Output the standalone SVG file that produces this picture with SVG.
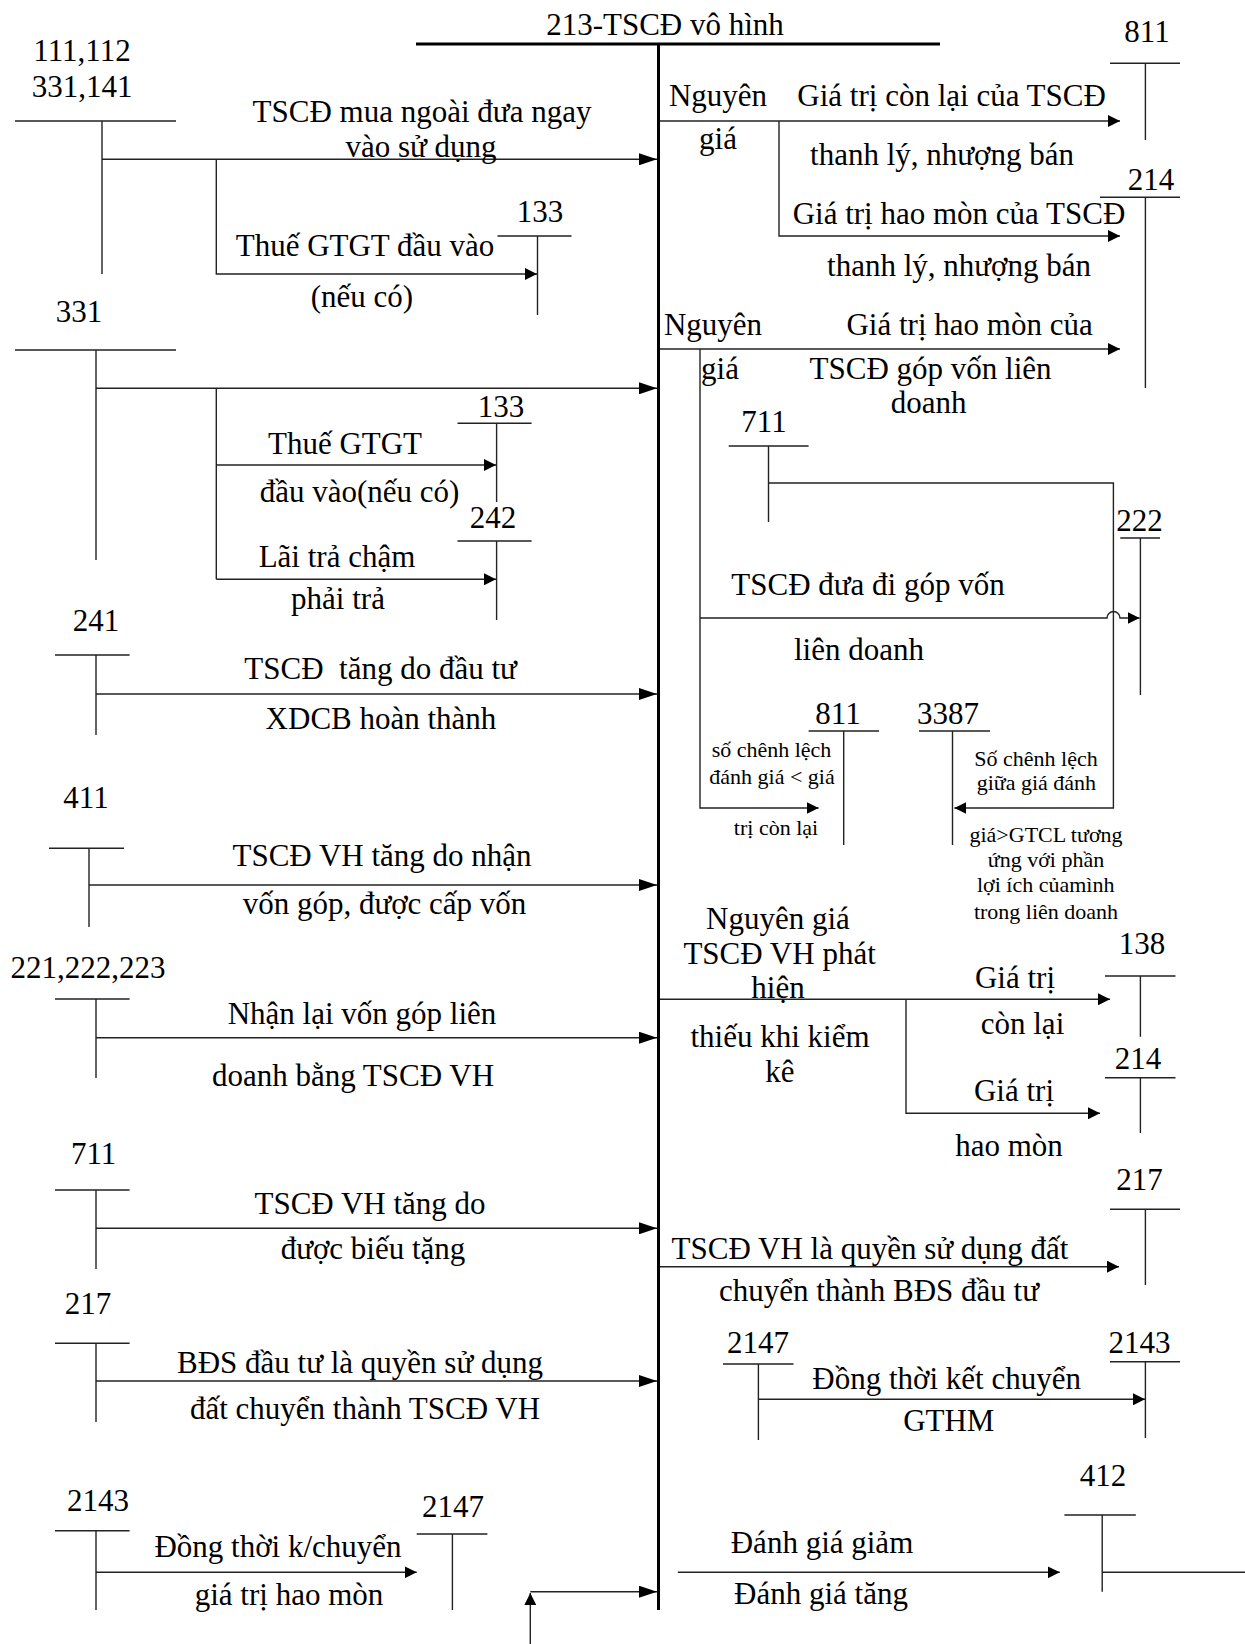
<svg xmlns="http://www.w3.org/2000/svg" width="1245" height="1644" viewBox="0 0 1245 1644">
<style>
  .t { font-family: "Liberation Serif", "Times New Roman", serif; font-size: 31px; fill: #000; text-anchor: middle; }
  .s { font-family: "Liberation Serif", "Times New Roman", serif; font-size: 22px; fill: #000; text-anchor: middle; }
  .ln { stroke: #222; stroke-width: 1.4; fill: none; }
  .main { stroke: #000; stroke-width: 3; fill: none; }
  .ar { stroke: #222; stroke-width: 1.4; fill: none; marker-end: url(#ah); }
  .arL { stroke: #222; stroke-width: 1.4; fill: none; marker-end: url(#ahL); }
</style>
<defs>
  <marker id="ah" markerWidth="12" markerHeight="12" refX="12" refY="6" orient="auto" markerUnits="userSpaceOnUse">
    <path d="M0,0 L12,6 L0,12 z" fill="#000"/>
  </marker>
  <marker id="ahL" markerWidth="18" markerHeight="12" refX="18" refY="6" orient="auto" markerUnits="userSpaceOnUse">
    <path d="M0,0 L18,6 L0,12 z" fill="#000"/>
  </marker>
</defs>
<rect width="1245" height="1644" fill="#fff"/>

<!-- central account 213 -->
<g id="acc213">
  <text class="t" x="665" y="35">213-TSCĐ vô hình</text>
  <line class="main" x1="416" y1="44" x2="940" y2="44"/>
  <line class="main" x1="658.5" y1="44" x2="658.5" y2="1610"/>
</g>

<!-- left-side accounts -->
<g id="acc111">
  <text class="t" x="82" y="61">111,112</text>
  <text class="t" x="82" y="97">331,141</text>
  <path class="ln" d="M15,121 H176 M102,121 V274"/>
</g>
<g id="acc133a">
  <text class="t" x="540" y="221.5">133</text>
  <path class="ln" d="M497.5,236 H571.5 M537.5,236 V315"/>
</g>
<g id="acc331">
  <text class="t" x="79" y="322">331</text>
  <path class="ln" d="M15,350 H176 M96,350 V560"/>
</g>
<g id="acc133b">
  <text class="t" x="501" y="417">133</text>
  <path class="ln" d="M457.5,423.3 H531.6 M496.6,423.3 V502"/>
</g>
<g id="acc242">
  <text class="t" x="493" y="528">242</text>
  <path class="ln" d="M457.5,541 H531.6 M496.6,541 V620"/>
</g>
<g id="acc241">
  <text class="t" x="96" y="631">241</text>
  <path class="ln" d="M55,655 H129.6 M96,655 V735"/>
</g>
<g id="acc411">
  <text class="t" x="86" y="808">411</text>
  <path class="ln" d="M49,848.3 H124 M89,848.3 V927"/>
</g>
<g id="acc221">
  <text class="t" x="88" y="977.5">221,222,223</text>
  <path class="ln" d="M55,999 H129.6 M96,999 V1078"/>
</g>
<g id="acc711L">
  <text class="t" x="93.6" y="1163.5">711</text>
  <path class="ln" d="M55,1190 H129.6 M96,1190 V1269"/>
</g>
<g id="acc217L">
  <text class="t" x="88" y="1314">217</text>
  <path class="ln" d="M55,1343.3 H129.6 M96,1343.3 V1422"/>
</g>
<g id="acc2143L">
  <text class="t" x="98" y="1510.5">2143</text>
  <path class="ln" d="M55,1530.7 H129.6 M96,1530.7 V1610"/>
</g>
<g id="acc2147L">
  <text class="t" x="453" y="1516.5">2147</text>
  <path class="ln" d="M416.7,1534 H487.4 M452.4,1534 V1610"/>
</g>

<!-- right-side accounts -->
<g id="acc811a">
  <text class="t" x="1147" y="42">811</text>
  <path class="ln" d="M1110,63.3 H1180 M1145.4,63.3 V140"/>
</g>
<g id="acc214a">
  <text class="t" x="1151" y="190">214</text>
  <path class="ln" d="M1100,197.3 H1180 M1145.4,197.3 V388"/>
</g>
<g id="acc711R">
  <text class="t" x="764" y="432">711</text>
  <path class="ln" d="M728.7,446 H808.6 M768.5,446 V522"/>
</g>
<g id="acc222">
  <text class="t" x="1139.6" y="531">222</text>
  <path class="ln" d="M1120.3,538 H1160 M1140.4,538 V695"/>
</g>
<g id="acc811b">
  <text class="t" x="838" y="724">811</text>
  <path class="ln" d="M808.6,731 H879 M843.7,731 V845"/>
</g>
<g id="acc3387">
  <text class="t" x="948" y="724">3387</text>
  <path class="ln" d="M919,731 H990 M952.5,731 V845"/>
</g>
<g id="acc138">
  <text class="t" x="1142" y="953.5">138</text>
  <path class="ln" d="M1105,976 H1175.5 M1140.4,976 V1036.7"/>
</g>
<g id="acc214b">
  <text class="t" x="1138" y="1069">214</text>
  <path class="ln" d="M1105,1077.7 H1175.5 M1140.4,1077.7 V1133"/>
</g>
<g id="acc217R">
  <text class="t" x="1139.6" y="1190">217</text>
  <path class="ln" d="M1110,1209.3 H1180 M1145.4,1209.3 V1285"/>
</g>
<g id="acc2147R">
  <text class="t" x="758" y="1353">2147</text>
  <path class="ln" d="M723,1364 H793.5 M758.4,1364 V1440"/>
</g>
<g id="acc2143R">
  <text class="t" x="1139.6" y="1353">2143</text>
  <path class="ln" d="M1110,1361.7 H1180 M1145.4,1361.7 V1438"/>
</g>
<g id="acc412">
  <text class="t" x="1103" y="1486">412</text>
  <path class="ln" d="M1064.4,1515 H1135.8 M1102.2,1515 V1591.7"/>
</g>

<!-- postings -->
<g id="connectors">
  <path class="arL" d="M102,159.3 H657"/>
  <path class="ar" d="M216.3,159.3 V274 H537"/>
  <path class="arL" d="M96,388.3 H657"/>
  <path class="ln" d="M216.3,388.3 V579.3"/>
  <path class="ar" d="M216.3,465 H496"/>
  <path class="ar" d="M216.3,579.3 H496"/>
  <path class="arL" d="M96,694 H657"/>
  <path class="arL" d="M89,885 H657"/>
  <path class="arL" d="M96,1037.7 H657"/>
  <path class="arL" d="M96,1228.3 H657"/>
  <path class="arL" d="M96,1381 H657"/>
  <path class="ar" d="M96,1572.3 H416.7"/>
  <path class="ar" d="M530.3,1644 V1593"/>
  <path class="arL" d="M530.3,1591.7 H657"/>

  <path class="ar" d="M660,121 H1120"/>
  <path class="ar" d="M779,121 V236 H1120"/>
  <path class="ar" d="M660,349 H1120"/>
  <path class="ar" d="M700,349 V808 H818.6"/>
  <path class="ar" d="M700,618 H1107 A6.5,6.5 0 0 1 1120,618 H1139.6"/>
  <path class="ar" d="M768.5,483 H1113.4 V808 H954.4"/>
  <path class="ar" d="M660,999.3 H1110"/>
  <path class="ar" d="M906,999.3 V1113.3 H1100"/>
  <path class="ar" d="M660,1266.7 H1119"/>
  <path class="ar" d="M758.4,1399.3 H1145"/>
  <path class="ar" d="M677.8,1572.3 H1059.8"/>
  <path class="ln" d="M1102.2,1572.3 H1245"/>
</g>

<!-- posting labels -->
<g id="labels">
  <text class="t" x="422" y="121.5">TSCĐ mua ngoài đưa ngay</text>
  <text class="t" x="421" y="157">vào sử dụng</text>
  <text class="t" x="365" y="255.5">Thuế GTGT đầu vào</text>
  <text class="t" x="362" y="307">(nếu có)</text>
  <text class="t" x="345" y="453.5">Thuế GTGT</text>
  <text class="t" x="359.5" y="501.5">đầu vào(nếu có)</text>
  <text class="t" x="337" y="567">Lãi trả chậm</text>
  <text class="t" x="338" y="609">phải trả</text>
  <text class="t" x="380.6" y="678.5" style="white-space:pre">TSCĐ  tăng do đầu tư</text>
  <text class="t" x="381" y="728.5">XDCB hoàn thành</text>
  <text class="t" x="382" y="865.5">TSCĐ VH tăng do nhận</text>
  <text class="t" x="384.5" y="914">vốn góp, được cấp vốn</text>
  <text class="t" x="362" y="1024">Nhận lại vốn góp liên</text>
  <text class="t" x="353" y="1086">doanh bằng TSCĐ VH</text>
  <text class="t" x="370" y="1213.5">TSCĐ VH tăng do</text>
  <text class="t" x="373" y="1258.5">được biếu tặng</text>
  <text class="t" x="360" y="1373">BĐS đầu tư là quyền sử dụng</text>
  <text class="t" x="365" y="1419">đất chuyển thành TSCĐ VH</text>
  <text class="t" x="278" y="1556.5">Đồng thời k/chuyển</text>
  <text class="t" x="289" y="1605">giá trị hao mòn</text>

  <text class="t" x="718" y="106">Nguyên</text>
  <text class="t" x="718" y="149">giá</text>
  <text class="t" x="951.6" y="106">Giá trị còn lại của TSCĐ</text>
  <text class="t" x="942" y="164.5">thanh lý, nhượng bán</text>
  <text class="t" x="959" y="224">Giá trị hao mòn của TSCĐ</text>
  <text class="t" x="959" y="275.5">thanh lý, nhượng bán</text>
  <text class="t" x="713" y="334.5">Nguyên</text>
  <text class="t" x="720" y="379">giá</text>
  <text class="t" x="969.6" y="334.5">Giá trị hao mòn của</text>
  <text class="t" x="930.6" y="378.5">TSCĐ góp vốn liên</text>
  <text class="t" x="928.6" y="413">doanh</text>
  <text class="t" x="868" y="595">TSCĐ đưa đi góp vốn</text>
  <text class="t" x="859" y="660">liên doanh</text>
  <text class="s" x="771.5" y="757">số chênh lệch</text>
  <text class="s" x="772" y="784">đánh giá &lt; giá</text>
  <text class="s" x="776" y="835">trị còn lại</text>
  <text class="s" x="1036" y="765.5">Số chênh lệch</text>
  <text class="s" x="1036.4" y="790">giữa giá đánh</text>
  <text class="s" x="1046" y="842">giá&gt;GTCL tương</text>
  <text class="s" x="1046" y="867">ứng với phần</text>
  <text class="s" x="1045.7" y="892">lợi ích củamình</text>
  <text class="s" x="1046" y="919">trong liên doanh</text>
  <text class="t" x="778" y="929">Nguyên giá</text>
  <text class="t" x="779.6" y="963.5">TSCĐ VH phát</text>
  <text class="t" x="778" y="998">hiện</text>
  <text class="t" x="780" y="1047">thiếu khi kiểm</text>
  <text class="t" x="780" y="1082">kê</text>
  <text class="t" x="1015" y="987.5">Giá trị</text>
  <text class="t" x="1022.5" y="1034">còn lại</text>
  <text class="t" x="1014" y="1101">Giá trị</text>
  <text class="t" x="1009" y="1155.5">hao mòn</text>
  <text class="t" x="870" y="1258.5">TSCĐ VH là quyền sử dụng đất</text>
  <text class="t" x="879" y="1300.5">chuyển thành BĐS đầu tư</text>
  <text class="t" x="946.7" y="1388.5">Đồng thời kết chuyển</text>
  <text class="t" x="948.8" y="1431">GTHM</text>
  <text class="t" x="822" y="1553">Đánh giá giảm</text>
  <text class="t" x="821" y="1604">Đánh giá tăng</text>
</g>
</svg>
